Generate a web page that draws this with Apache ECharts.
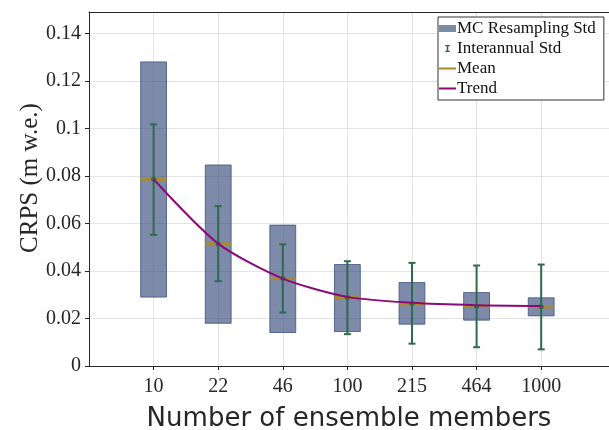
<!DOCTYPE html>
<html>
<head>
<meta charset="utf-8">
<script src="https://cdn.jsdelivr.net/npm/echarts@6/dist/echarts.min.js"></script>
<style>
  html, body { margin: 0; padding: 0; background: #fff; }
  #main { width: 609px; height: 430px; }
</style>
</head>
<body>
<div id="main"></div>
<script>
var categories = ['10', '22', '46', '100', '215', '464', '1000'];
// MC resampling std box (low / high)
var mcLow  = [0.029, 0.018, 0.0141, 0.0145, 0.0176, 0.0193, 0.0211];
var mcHigh = [0.128, 0.0846, 0.0593, 0.0427, 0.0351, 0.0309, 0.0287];
// interannual std error bars
var iaLow  = [0.0552, 0.0357, 0.0225, 0.0134, 0.0094, 0.0079, 0.0070];
var iaHigh = [0.1017, 0.0673, 0.0512, 0.0441, 0.0434, 0.0423, 0.0427];
var means  = [0.0786, 0.0514, 0.0368, 0.0288, 0.0263, 0.0252, 0.0249];
var trend  = [0.0786, 0.0515, 0.0368, 0.0291, 0.0266, 0.0256, 0.0253];
var yTicks = [0, 0.02, 0.04, 0.06, 0.08, 0.1, 0.12, 0.14];
var xTicks = [0, 1, 2, 3, 4, 5, 6];

var boxColor = 'rgba(50,70,120,0.63)';
var boxEdge = 'rgba(60,80,130,0.8)';
var errColor = '#2f6a4e';
var meanColor = '#a88b2c';
var trendColor = '#8c0a78';
var serif = "'Liberation Serif', serif";

var boxData = [], errData = [], meanData = [], trendData = [];
for (var i = 0; i < categories.length; i++) {
  boxData.push([i, mcLow[i], mcHigh[i]]);
  errData.push([i, iaLow[i], iaHigh[i], means[i]]);
  meanData.push([i, means[i]]);
  trendData.push([i, trend[i]]);
}

var myChart = echarts.init(document.getElementById('main'));

var option = {
  animation: false,
  grid: { left: 89, right: 0, top: 12, bottom: 64, outerBoundsMode: 'none', containLabel: false },
  legend: {
    orient: 'vertical',
    left: 438,
    top: 17,
    padding: [3, 8, 3, 1],
    itemGap: 3,
    itemWidth: 17,
    itemHeight: 7,
    backgroundColor: '#fff',
    borderColor: '#333',
    borderWidth: 1,
    borderRadius: 0,
    textStyle: { fontFamily: serif, fontSize: 17, color: '#111', padding: [0, 0, 0, -4], lineHeight: 16 },
    data: [
      { name: 'MC Resampling Std', icon: 'rect', itemStyle: { color: boxColor } },
      { name: 'Interannual Std', icon: 'path://M0,0h6v1.5h-2v6h2v1.5h-6v-1.5h2v-6h-2z', itemStyle: { color: errColor } },
      { name: 'Mean', icon: 'path://M0,0h17v2h-17z', itemStyle: { color: meanColor } },
      { name: 'Trend', icon: 'path://M0,0h17v2h-17z', itemStyle: { color: trendColor } }
    ]
  },
  graphic: [{
    type: 'text',
    x: 30,
    y: 178,
    rotation: Math.PI / 2,
    style: {
      text: 'CRPS (m w.e.)',
      font: "25px 'Liberation Serif', serif",
      fill: '#262626',
      align: 'center',
      verticalAlign: 'middle'
    }
  }],
  xAxis: [{
    type: 'value',
    min: -1,
    max: 7.05,
    interval: 1,
    name: 'Number of ensemble members',
    nameLocation: 'middle',
    nameGap: 40,
    nameTextStyle: { fontFamily: "'DejaVu Sans', sans-serif", fontSize: 26, color: '#262626' },
    axisLine: { show: true, onZero: false, lineStyle: { color: '#262626', width: 1 } },
    axisTick: { show: true, inside: false, length: 4, customValues: xTicks, lineStyle: { color: '#262626' } },
    axisLabel: {
      fontFamily: serif, fontSize: 20, color: '#262626', margin: 11,
      customValues: xTicks,
      formatter: function (v) {
        return categories[Math.round(v)];
      }
    },
    splitLine: { show: true, lineStyle: { color: '#e3e3e3', width: 1 } }
  }, {
    type: 'value',
    position: 'top',
    min: -1,
    max: 7.05,
    interval: 1,
    axisLine: { show: true, onZero: false, lineStyle: { color: '#262626', width: 1 } },
    axisTick: { show: false },
    axisLabel: { show: false },
    splitLine: { show: false }
  }],
  yAxis: {
    type: 'value',
    min: 0,
    max: 0.149,
    interval: 0.02,
    axisLine: { show: true, onZero: false, lineStyle: { color: '#262626', width: 1 } },
    axisTick: { show: true, inside: false, length: 4, customValues: yTicks, lineStyle: { color: '#262626' } },
    axisLabel: {
      fontFamily: serif, fontSize: 20, color: '#262626', margin: 8,
      customValues: yTicks,
      formatter: function (v) {
        return v === 0 ? '0' : String(+v.toFixed(2));
      }
    },
    splitLine: { show: true, lineStyle: { color: '#e3e3e3', width: 1 } }
  },
  series: [
    {
      name: 'MC Resampling Std',
      type: 'custom',
      z: 2,
      itemStyle: { color: boxColor },
      data: boxData,
      renderItem: function (params, api) {
        var x = api.value(0);
        var p1 = api.coord([x - 0.2, api.value(2)]);
        var p2 = api.coord([x + 0.2, api.value(1)]);
        return {
          type: 'rect',
          shape: { x: p1[0], y: p1[1], width: p2[0] - p1[0], height: p2[1] - p1[1] },
          style: { fill: boxColor, stroke: boxEdge, lineWidth: 1 }
        };
      }
    },
    {
      name: 'Mean',
      type: 'custom',
      z: 3,
      itemStyle: { color: meanColor },
      data: meanData,
      renderItem: function (params, api) {
        var x = api.value(0);
        var a = api.coord([x - 0.2, api.value(1)]);
        var b = api.coord([x + 0.2, api.value(1)]);
        return {
          type: 'line',
          shape: { x1: a[0], y1: a[1], x2: b[0], y2: b[1] },
          style: { stroke: meanColor, lineWidth: 3 }
        };
      }
    },
    {
      name: 'Interannual Std',
      type: 'custom',
      z: 4,
      itemStyle: { color: errColor },
      data: errData,
      renderItem: function (params, api) {
        var x = api.value(0);
        var lo = api.coord([x, api.value(1)]);
        var hi = api.coord([x, api.value(2)]);
        var mid = api.coord([x, api.value(3)]);
        var cap = 3.5;
        var st = { stroke: errColor, lineWidth: 2 };
        return {
          type: 'group',
          children: [
            { type: 'line', shape: { x1: lo[0], y1: lo[1], x2: hi[0], y2: hi[1] }, style: st },
            { type: 'line', shape: { x1: lo[0] - cap, y1: lo[1], x2: lo[0] + cap, y2: lo[1] }, style: st },
            { type: 'line', shape: { x1: hi[0] - cap, y1: hi[1], x2: hi[0] + cap, y2: hi[1] }, style: st },
            { type: 'circle', shape: { cx: mid[0], cy: mid[1], r: 2.5 }, style: { fill: errColor } }
          ]
        };
      }
    },
    {
      name: 'Trend',
      type: 'line',
      z: 5,
      data: trendData,
      smooth: 0.25,
      symbol: 'none',
      itemStyle: { color: trendColor },
      lineStyle: { color: trendColor, width: 2 }
    }
  ]
};

myChart.setOption(option);
</script>
</body>
</html>
